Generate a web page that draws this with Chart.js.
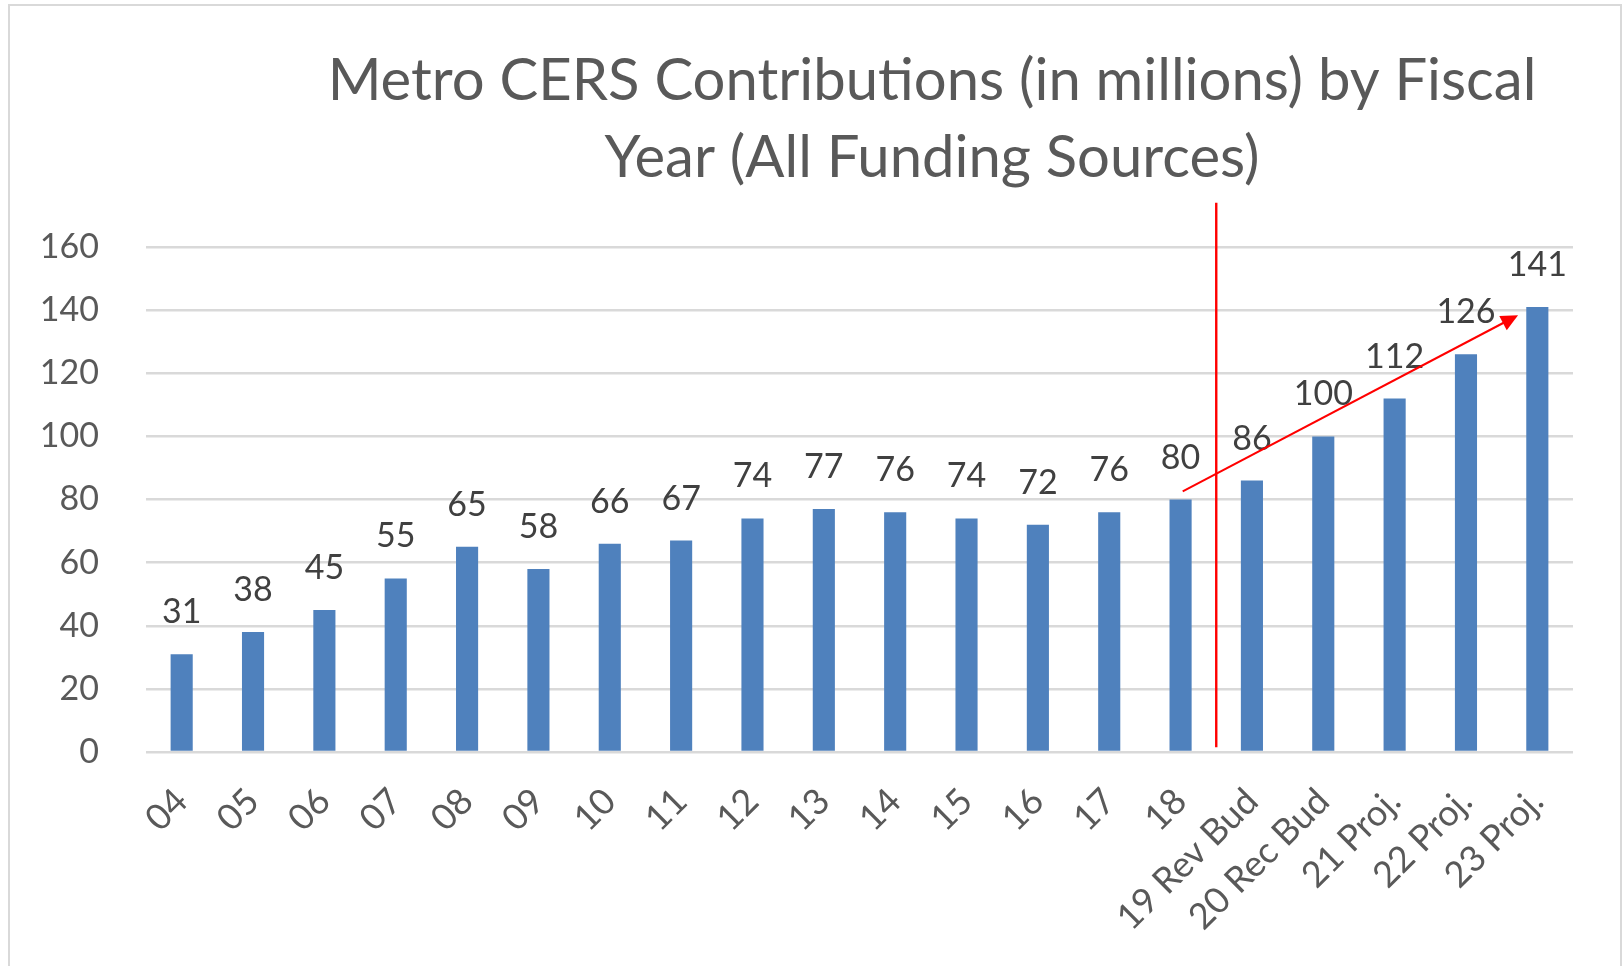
<!DOCTYPE html>
<html>
<head>
<meta charset="utf-8">
<title>Metro CERS Contributions</title>
<script src="https://cdn.jsdelivr.net/npm/chart.js@4.4.0/dist/chart.umd.min.js"></script>
<style>
html,body{margin:0;padding:0;background:#fff;overflow:hidden;}
#wrap{position:relative;width:1624px;height:966px;}
#frame{position:absolute;left:8px;top:4px;width:1614px;height:1000px;border:2px solid #d9d9d9;box-sizing:border-box;pointer-events:none;}
canvas{position:absolute;left:0;top:0;}
</style>
</head>
<body>
<div id="wrap">
  <canvas id="chart" width="1624" height="966"></canvas>
  <div id="frame"></div>
</div>
<script>
// data
const years = ['04','05','06','07','08','09','10','11','12','13','14','15','16','17','18',
  '19 Rev Bud','20 Rec Bud','21 Proj.','22 Proj.','23 Proj.'];
const contributions = [31,38,45,55,65,58,66,67,74,77,76,74,72,76,80,86,100,112,126,141];
const yTicks = [0,20,40,60,80,100,120,140,160];
const titleLines = ['Metro CERS Contributions (in millions) by Fiscal', 'Year (All Funding Sources)'];

// red marks, in data units (category index, value)
const dividerX = 14.5;
const dividerSpan = [1.5, 174];
const trendFrom = [14.03, 82.6];
const trendTo = [18.73, 138.4];

const FONT = 'Lato';

const overlay = {
  id: 'overlay',
  afterDatasetsDraw(chart){
    const ctx = chart.ctx, xs = chart.scales.x, ys = chart.scales.y;
    ctx.save();
    // value labels
    ctx.font = `34px ${FONT}`; ctx.fillStyle = '#404040';
    ctx.textAlign = 'center'; ctx.textBaseline = 'alphabetic';
    chart.getDatasetMeta(0).data.forEach((bar,i)=>{ ctx.fillText(String(contributions[i]), bar.x, bar.y - 31); });

    // divider line
    const dx = xs.getPixelForValue(dividerX);
    ctx.strokeStyle = '#ff0000'; ctx.lineWidth = 2.4;
    ctx.beginPath(); ctx.moveTo(dx, ys.getPixelForValue(dividerSpan[0])); ctx.lineTo(dx, ys.getPixelForValue(dividerSpan[1])); ctx.stroke();

    // trend arrow
    const x0 = xs.getPixelForValue(trendFrom[0]), y0 = ys.getPixelForValue(trendFrom[1]);
    const x1 = xs.getPixelForValue(trendTo[0]), y1 = ys.getPixelForValue(trendTo[1]);
    const ang = Math.atan2(y1-y0, x1-x0), head = 17, half = 8;
    ctx.lineWidth = 2;
    ctx.beginPath(); ctx.moveTo(x0,y0); ctx.lineTo(x1 - Math.cos(ang)*head*0.8, y1 - Math.sin(ang)*head*0.8); ctx.stroke();
    ctx.fillStyle = '#ff0000';
    ctx.beginPath();
    ctx.moveTo(x1,y1);
    ctx.lineTo(x1 - Math.cos(ang)*head - Math.sin(ang)*half, y1 - Math.sin(ang)*head + Math.cos(ang)*half);
    ctx.lineTo(x1 - Math.cos(ang)*head + Math.sin(ang)*half, y1 - Math.sin(ang)*head - Math.cos(ang)*half);
    ctx.closePath(); ctx.fill();

    // title
    ctx.font = `58px ${FONT}`; ctx.fillStyle = '#595959';
    ctx.fillText(titleLines[0], 932, 100);
    ctx.fillText(titleLines[1], 932, 177);
    ctx.restore();
  }
};

function build(){
  new Chart(document.getElementById('chart'), {
    type: 'bar',
    data: { labels: years, datasets: [{ data: contributions, backgroundColor: '#4f81bd', barPercentage: 0.31, categoryPercentage: 1 }] },
    options: {
      responsive: false, animation: false, devicePixelRatio: 1,
      layout: { padding: { top: 247, right: 51, left: 0, bottom: 0 } },
      plugins: { legend: { display: false }, tooltip: { enabled: false }, title: { display: false } },
      scales: {
        x: {
          grid: { display: false }, border: { display: false },
          ticks: { color: '#595959', font: { family: FONT, size: 36 }, maxRotation: 45, minRotation: 45, autoSkip: false, padding: 20 },
          afterFit(s){ s.height = 214; }
        },
        y: {
          min: 0, max: 160,
          grid: { color: '#d9d9d9', lineWidth: 2.5, drawTicks: false }, border: { display: false },
          ticks: { color: '#595959', font: { family: FONT, size: 34 }, padding: 47, stepSize: 20 },
          afterBuildTicks(s){ s.ticks = yTicks.map(v=>({value:v})); },
          afterFit(s){ s.width = 146; }
        }
      }
    },
    plugins: [overlay]
  });
}
document.fonts.load(`34px ${FONT}`).then(build, build);
</script>
</body>
</html>
